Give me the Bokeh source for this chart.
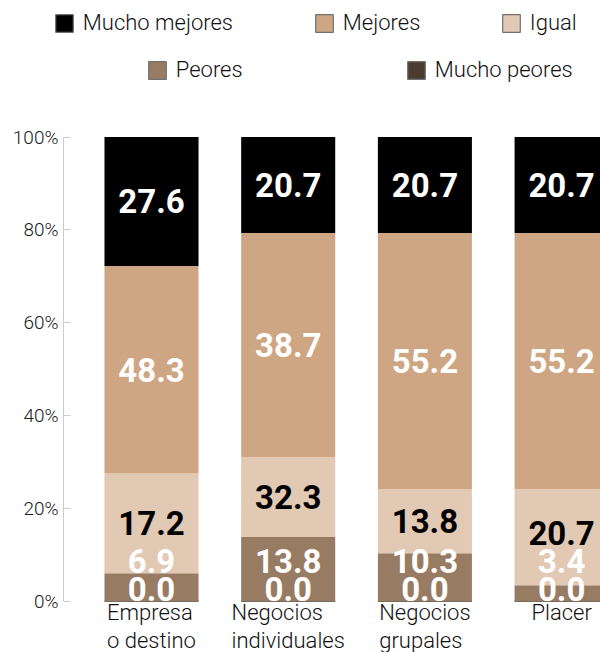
from bokeh.plotting import figure
from bokeh.models import (ColumnDataSource, Range1d, FixedTicker, PrintfTickFormatter,
                          Legend, LegendItem, LabelSet)
from bokeh.core.properties import value
from bokeh.embed import file_html
from bokeh.resources import INLINE
import numpy as np

# ---------------- data ----------------
categories = ["Empresa\no destino", "Negocios\nindividuales", "Negocios\ngrupales", "Placer"]
series_keys = ["mucho_peores", "peores", "igual", "mejores", "mucho_mejores"]   # bottom -> top
series_names = ["Mucho peores", "Peores", "Igual", "Mejores", "Mucho mejores"]
colors = ["#4b3c30", "#987b63", "#e2c9b3", "#cfa683", "#000000"]
label_colors = ["white", "white", "black", "white", "white"]

# segment heights as drawn (% of each bar)
mucho_peores = [0.0, 0.0, 0.0, 0.0]
peores = [6.0, 13.8, 10.3, 3.4]
igual = [21.5, 17.2, 13.8, 20.7]
mejores = [44.7, 48.3, 55.2, 55.2]
mucho_mejores = [27.8, 20.7, 20.7, 20.7]

# values printed on the bars
lbl_mucho_peores = ["0.0", "0.0", "0.0", "0.0"]
lbl_peores = ["6.9", "13.8", "10.3", "3.4"]
lbl_igual = ["17.2", "32.3", "13.8", "20.7"]
lbl_mejores = ["48.3", "38.7", "55.2", "55.2"]
lbl_mucho_mejores = ["27.6", "20.7", "20.7", "20.7"]

y_ticks = [0, 20, 40, 60, 80, 100]

# ---------------- layout ----------------
W, H = 600, 652
LIGHT = "Roboto Light"
cat_px = 136.7            # px per category
first_center_px = 151.0   # screen x of first bar centre
axis_px = 63.0            # screen x of the y axis
unit_px = 4.64            # px per percentage point
base_px = 600.5           # screen y of 0 %
x_start = 0.5 - first_center_px / cat_px
x_end = x_start + W / cat_px
y_start = -(H - base_px) / unit_px
y_end = 100 + (base_px - 100 * unit_px) / unit_px
bar_width = 0.688

xs = np.arange(len(categories)) + 0.5
seg = dict(mucho_peores=mucho_peores, peores=peores, igual=igual,
           mejores=mejores, mucho_mejores=mucho_mejores)
lbls = [lbl_mucho_peores, lbl_peores, lbl_igual, lbl_mejores, lbl_mucho_mejores]

source = ColumnDataSource(dict(x=xs, **seg))

p = figure(width=W, height=H, x_range=Range1d(x_start, x_end), y_range=Range1d(y_start, y_end),
           output_backend="svg", toolbar_location=None,
           min_border_left=0, min_border_right=0, min_border_top=0, min_border_bottom=0)
p.outline_line_color = None
p.grid.visible = False
p.background_fill_color = "white"

# legend-only renderers (zero-size, hidden under the bars' base line)
dummy_src = ColumnDataSource(dict(x=xs[:1], y=[0.0]))
dummies = {}
for name, col in zip(series_names, colors):
    dummies[name] = p.vbar(x="x", top="y", bottom="y", width=0.0, source=dummy_src,
                           fill_color=col, line_color="#707070", line_width=1.2)

rs = p.vbar_stack(series_keys, x="x", width=bar_width, fill_color=colors,
                  line_color=None, source=source)
rs[0].glyph.line_color = colors[0]
rs[0].glyph.line_width = 1.5

# value labels: centred on segment, pushed up to avoid overlap
half_h = 12.5 / unit_px
step = 28.0 / unit_px
lx, ly, lt, lc = [], [], [], []
for i in range(len(categories)):
    bottom = 0.0
    prev = None
    for k, key in enumerate(series_keys):
        h = seg[key][i]
        c = bottom + h / 2.0
        y = max(c, half_h) if prev is None else max(c, prev + step)
        prev = y
        bottom += h
        lx.append(xs[i]); ly.append(y); lt.append(lbls[k][i]); lc.append(label_colors[k])
lsrc = ColumnDataSource(dict(x=lx, y=ly, t=lt, c=lc))
p.text(x="x", y="y", text="t", source=lsrc, text_color="c", text_align="center",
       text_baseline="middle", text_font=value("Roboto"), text_font_size="33px",
       text_font_style="bold")

# axes
p.xaxis.visible = False
ya = p.yaxis[0]
ya.fixed_location = x_start + axis_px / cat_px
ya.bounds = (0, 100)
ya.ticker = FixedTicker(ticks=y_ticks)
ya.formatter = PrintfTickFormatter(format="%d%%")
ya.axis_line_color = "#cccccc"
ya.major_tick_line_color = "#cccccc"
ya.major_tick_in = 7
ya.major_tick_out = 0
ya.minor_tick_line_color = None
ya.major_label_standoff = 5
ya.major_label_text_font = LIGHT
ya.major_label_text_font_size = "19px"
ya.major_label_text_color = "#222222"

# category labels under the bars
csrc = ColumnDataSource(dict(x=xs, y=np.zeros(len(xs)), t=categories))
p.add_layout(LabelSet(x="x", y="y", text="t", source=csrc, text_align="center",
                      text_baseline="top", y_offset=1, text_font=value(LIGHT),
                      text_font_size="22px", text_color="#111111", text_line_height=1.1))

# legend: one item per position (screen x of square, screen y of row centre)
leg_rows = [("Mucho mejores", 55, 22), ("Mejores", 315, 22), ("Igual", 502, 22),
            ("Peores", 148, 69), ("Mucho peores", 407, 69)]
glyph = 22
item_h = 26
for name, sx, sy in leg_rows:
    lg = Legend(items=[LegendItem(label=name, renderers=[dummies[name]])],
                location=(sx - 0.1 * glyph, H - sy - item_h / 2), orientation="horizontal",
                glyph_width=glyph, glyph_height=glyph, label_standoff=8, padding=0, margin=0,
                border_line_color=None, background_fill_alpha=0,
                label_text_font=LIGHT, label_text_font_size="22px",
                label_text_color="#111111", label_height=18)
    p.add_layout(lg, "center")

open("out.html", "w").write(file_html(p, INLINE))
